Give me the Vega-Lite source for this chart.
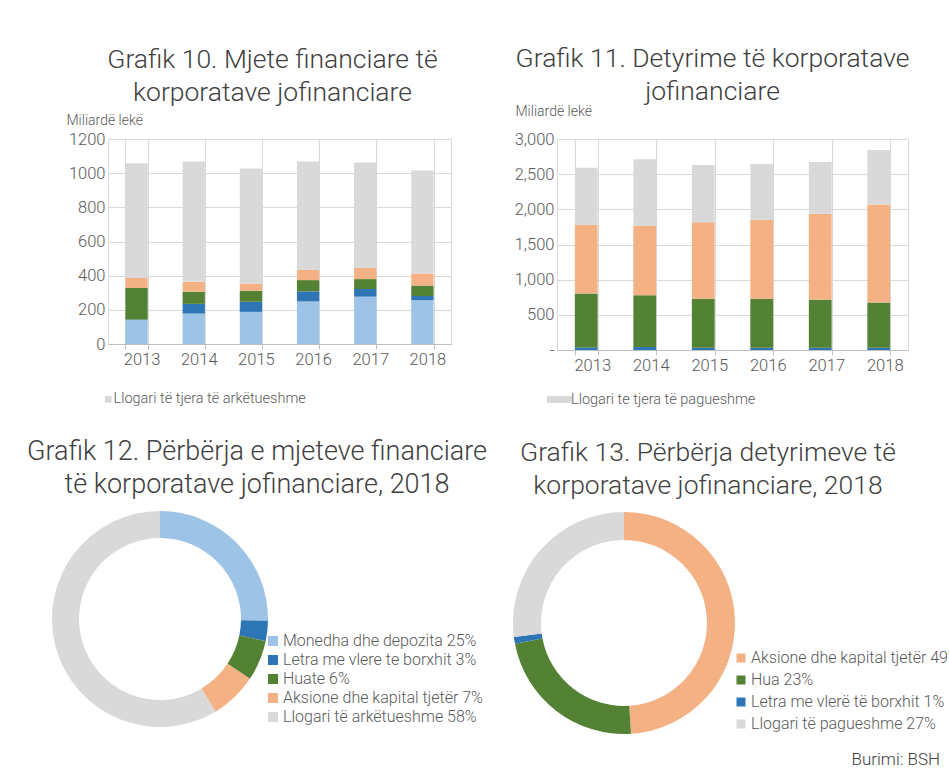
{
  "$schema": "https://vega.github.io/schema/vega-lite/v6.json",
  "background": "white",
  "padding": {"left": 26, "top": 45, "right": 0, "bottom": 0},
  "spacing": 31,
  "resolve": {"scale": {"color": "independent"}, "legend": {"color": "independent"}},
  "title": {"text": "Burimi: BSH", "orient": "bottom", "anchor": "end", "fontSize": 17, "color": "#404040", "offset": 18, "dx": -20},
  "config": {
    "font": "Roboto",
    "title": {"font": "Roboto", "fontWeight": 300, "fontSize": 26.5, "color": "#404040", "lineHeight": 33},
    "axis": {"labelFont": "Roboto", "labelFontWeight": 300, "labelFontSize": 16.5, "labelColor": "#595959", "titleFont": "Roboto", "titleFontWeight": 300, "titleFontSize": 14, "titleColor": "#595959", "gridColor": "#d9d9d9", "domainColor": "#bfbfbf", "tickColor": "#bfbfbf"},
    "legend": {"labelFont": "Roboto", "labelFontWeight": 300, "labelColor": "#595959", "labelLimit": 400}
  },
  "datasets": {
    "assets": [
      {"year": "2013", "cat": "Monedha dhe depozita", "o": 1, "value": 140},
      {"year": "2013", "cat": "Letra me vlere te borxhit", "o": 2, "value": 3},
      {"year": "2013", "cat": "Huate", "o": 3, "value": 185},
      {"year": "2013", "cat": "Aksione dhe kapital tjetër", "o": 4, "value": 59},
      {"year": "2013", "cat": "Llogari të tjera të arkëtueshme", "o": 5, "value": 671},
      {"year": "2014", "cat": "Monedha dhe depozita", "o": 1, "value": 178},
      {"year": "2014", "cat": "Letra me vlere te borxhit", "o": 2, "value": 57},
      {"year": "2014", "cat": "Huate", "o": 3, "value": 71},
      {"year": "2014", "cat": "Aksione dhe kapital tjetër", "o": 4, "value": 58},
      {"year": "2014", "cat": "Llogari të tjera të arkëtueshme", "o": 5, "value": 704},
      {"year": "2015", "cat": "Monedha dhe depozita", "o": 1, "value": 188},
      {"year": "2015", "cat": "Letra me vlere te borxhit", "o": 2, "value": 59},
      {"year": "2015", "cat": "Huate", "o": 3, "value": 65},
      {"year": "2015", "cat": "Aksione dhe kapital tjetër", "o": 4, "value": 42},
      {"year": "2015", "cat": "Llogari të tjera të arkëtueshme", "o": 5, "value": 674},
      {"year": "2016", "cat": "Monedha dhe depozita", "o": 1, "value": 249},
      {"year": "2016", "cat": "Letra me vlere te borxhit", "o": 2, "value": 59},
      {"year": "2016", "cat": "Huate", "o": 3, "value": 66},
      {"year": "2016", "cat": "Aksione dhe kapital tjetër", "o": 4, "value": 61},
      {"year": "2016", "cat": "Llogari të tjera të arkëtueshme", "o": 5, "value": 633},
      {"year": "2017", "cat": "Monedha dhe depozita", "o": 1, "value": 277},
      {"year": "2017", "cat": "Letra me vlere te borxhit", "o": 2, "value": 45},
      {"year": "2017", "cat": "Huate", "o": 3, "value": 58},
      {"year": "2017", "cat": "Aksione dhe kapital tjetër", "o": 4, "value": 67},
      {"year": "2017", "cat": "Llogari të tjera të arkëtueshme", "o": 5, "value": 615},
      {"year": "2018", "cat": "Monedha dhe depozita", "o": 1, "value": 257},
      {"year": "2018", "cat": "Letra me vlere te borxhit", "o": 2, "value": 24},
      {"year": "2018", "cat": "Huate", "o": 3, "value": 61},
      {"year": "2018", "cat": "Aksione dhe kapital tjetër", "o": 4, "value": 71},
      {"year": "2018", "cat": "Llogari të tjera të arkëtueshme", "o": 5, "value": 603}
    ],
    "liab": [
      {"year": "2013", "cat": "Letra me vlerë të borxhit", "o": 1, "value": 37},
      {"year": "2013", "cat": "Hua", "o": 2, "value": 766},
      {"year": "2013", "cat": "Aksione dhe kapital tjetër", "o": 3, "value": 975},
      {"year": "2013", "cat": "Llogari te tjera të pagueshme", "o": 4, "value": 812},
      {"year": "2014", "cat": "Letra me vlerë të borxhit", "o": 1, "value": 42},
      {"year": "2014", "cat": "Hua", "o": 2, "value": 737},
      {"year": "2014", "cat": "Aksione dhe kapital tjetër", "o": 3, "value": 985},
      {"year": "2014", "cat": "Llogari te tjera të pagueshme", "o": 4, "value": 947},
      {"year": "2015", "cat": "Letra me vlerë të borxhit", "o": 1, "value": 33},
      {"year": "2015", "cat": "Hua", "o": 2, "value": 695},
      {"year": "2015", "cat": "Aksione dhe kapital tjetër", "o": 3, "value": 1087},
      {"year": "2015", "cat": "Llogari te tjera të pagueshme", "o": 4, "value": 817},
      {"year": "2016", "cat": "Letra me vlerë të borxhit", "o": 1, "value": 33},
      {"year": "2016", "cat": "Hua", "o": 2, "value": 695},
      {"year": "2016", "cat": "Aksione dhe kapital tjetër", "o": 3, "value": 1124},
      {"year": "2016", "cat": "Llogari te tjera të pagueshme", "o": 4, "value": 794},
      {"year": "2017", "cat": "Letra me vlerë të borxhit", "o": 1, "value": 33},
      {"year": "2017", "cat": "Hua", "o": 2, "value": 681},
      {"year": "2017", "cat": "Aksione dhe kapital tjetër", "o": 3, "value": 1222},
      {"year": "2017", "cat": "Llogari te tjera të pagueshme", "o": 4, "value": 738},
      {"year": "2018", "cat": "Letra me vlerë të borxhit", "o": 1, "value": 33},
      {"year": "2018", "cat": "Hua", "o": 2, "value": 644},
      {"year": "2018", "cat": "Aksione dhe kapital tjetër", "o": 3, "value": 1390},
      {"year": "2018", "cat": "Llogari te tjera të pagueshme", "o": 4, "value": 775}
    ],
    "assetsShare": [
      {"label": "Monedha dhe depozita 25%", "o": 1, "value": 25},
      {"label": "Letra me vlere te borxhit 3%", "o": 2, "value": 3},
      {"label": "Huate 6%", "o": 3, "value": 6},
      {"label": "Aksione dhe kapital tjetër 7%", "o": 4, "value": 7},
      {"label": "Llogari të arkëtueshme 58%", "o": 5, "value": 58}
    ],
    "liabShare": [
      {"label": "Aksione dhe kapital tjetër 49%", "o": 1, "value": 49},
      {"label": "Hua 23%", "o": 2, "value": 23},
      {"label": "Letra me vlerë të borxhit 1%", "o": 3, "value": 1},
      {"label": "Llogari të pagueshme 27%", "o": 4, "value": 27}
    ]
  },
  "vconcat": [
    {
      "spacing": 61,
      "resolve": {"scale": {"color": "independent"}, "legend": {"color": "independent"}},
      "hconcat": [
        {
          "width": 343,
          "height": 205,
          "view": {"stroke": "#d9d9d9"},
          "title": {"text": ["Grafik 10. Mjete financiare të", "korporatave jofinanciare"], "frame": "group", "dx": -7, "offset": 7},
          "data": {"name": "assets"},
          "mark": {"type": "bar"},
          "encoding": {
            "x": {"field": "year", "type": "nominal", "scale": {"paddingInner": 0.61, "paddingOuter": 0.305},
              "axis": {"title": null, "labelAngle": 0, "tickBand": "extent", "grid": true, "tickSize": 5, "labelOffset": 5, "labelPadding": 2}},
            "y": {"field": "value", "type": "quantitative", "stack": "zero", "scale": {"domain": [0, 1200]},
              "axis": {"values": [0, 200, 400, 600, 800, 1000, 1200], "format": "d", "title": "Miliardë lekë", "titleAngle": 0, "titleAlign": "left", "titleBaseline": "middle", "titleX": -42, "titleY": -19, "domain": false, "ticks": false, "labelPadding": 3}},
            "color": {"field": "cat", "type": "nominal",
              "scale": {"domain": ["Monedha dhe depozita", "Letra me vlere te borxhit", "Huate", "Aksione dhe kapital tjetër", "Llogari të tjera të arkëtueshme"], "range": ["#9dc3e6", "#2e75b6", "#548235", "#f4b183", "#d9d9d9"]},
              "legend": {"values": ["Llogari të tjera të arkëtueshme"], "orient": "none", "legendX": -7, "legendY": 253, "title": null, "symbolType": "square", "symbolSize": 45, "labelFontSize": 14.5, "labelOffset": -2}},
            "order": {"field": "o", "type": "quantitative"}
          }
        },
        {
          "width": 351,
          "height": 211,
          "view": {"stroke": "#d9d9d9"},
          "title": {"text": ["Grafik 11. Detyrime të korporatave", "jofinanciare"], "frame": "group", "dx": -20, "offset": -1},
          "data": {"name": "liab"},
          "mark": {"type": "bar"},
          "encoding": {
            "x": {"field": "year", "type": "nominal", "scale": {"paddingInner": 0.61, "paddingOuter": 0.305},
              "axis": {"title": null, "labelAngle": 0, "tickBand": "extent", "grid": true, "tickSize": 5, "labelOffset": 6, "labelPadding": 2}},
            "y": {"field": "value", "type": "quantitative", "stack": "zero", "scale": {"domain": [0, 3000]},
              "axis": {"values": [0, 500, 1000, 1500, 2000, 2500, 3000], "labelExpr": "datum.value == 0 ? '-\u00a0\u00a0\u00a0\u00a0\u00a0' : format(datum.value, ',')", "title": "Miliardë lekë", "titleAngle": 0, "titleAlign": "left", "titleBaseline": "middle", "titleX": -42, "titleY": -28, "domain": false, "ticks": false, "labelPadding": 3}},
            "color": {"field": "cat", "type": "nominal",
              "scale": {"domain": ["Letra me vlerë të borxhit", "Hua", "Aksione dhe kapital tjetër", "Llogari te tjera të pagueshme"], "range": ["#2e75b6", "#548235", "#f4b183", "#d9d9d9"]},
              "legend": {"values": ["Llogari te tjera të pagueshme"], "orient": "none", "legendX": -11, "legendY": 247, "title": null, "symbolType": "M-1,-0.28H1V0.28H-1Z", "symbolSize": 625, "labelFontSize": 14.5, "labelOffset": -2}},
            "order": {"field": "o", "type": "quantitative"}
          }
        }
      ]
    },
    {
      "spacing": 25,
      "resolve": {"scale": {"color": "independent"}, "legend": {"color": "independent"}},
      "hconcat": [
        {
          "width": 104,
          "height": 214,
          "view": {"stroke": null},
          "title": {"text": ["Grafik 12. Përbërja e mjeteve financiare", "të korporatave jofinanciare, 2018"], "fontSize": 27, "frame": "group", "dx": 97, "offset": 12},
          "data": {"name": "assetsShare"},
          "mark": {"type": "arc", "outerRadius": 108, "innerRadius": 81},
          "encoding": {
            "theta": {"field": "value", "type": "quantitative", "stack": true},
            "order": {"field": "o", "type": "quantitative"},
            "color": {"field": "label", "type": "nominal",
              "scale": {"domain": ["Monedha dhe depozita 25%", "Letra me vlere te borxhit 3%", "Huate 6%", "Aksione dhe kapital tjetër 7%", "Llogari të arkëtueshme 58%"], "range": ["#9dc3e6", "#2e75b6", "#548235", "#f4b183", "#d9d9d9"]},
              "legend": {"orient": "none", "legendX": 157, "legendY": 121, "title": null, "symbolType": "square", "symbolSize": 100, "labelFontSize": 16, "rowPadding": 3, "labelOffset": 2}}
          }
        },
        {
          "width": 222,
          "height": 222,
          "view": {"stroke": null},
          "title": {"text": ["Grafik 13. Përbërja detyrimeve të", "korporatave jofinanciare, 2018"], "frame": "group", "dx": 84, "offset": 13},
          "data": {"name": "liabShare"},
          "mark": {"type": "arc", "outerRadius": 111, "innerRadius": 83},
          "encoding": {
            "theta": {"field": "value", "type": "quantitative", "stack": true},
            "order": {"field": "o", "type": "quantitative"},
            "color": {"field": "label", "type": "nominal",
              "scale": {"domain": ["Aksione dhe kapital tjetër 49%", "Hua 23%", "Letra me vlerë të borxhit 1%", "Llogari të pagueshme 27%"], "range": ["#f4b183", "#548235", "#2e75b6", "#d9d9d9"]},
              "legend": {"orient": "none", "legendX": 220, "legendY": 138, "title": null, "symbolType": "square", "symbolSize": 81, "labelFontSize": 16, "rowPadding": 6, "labelOffset": 2}}
          }
        }
      ]
    }
  ]
}
